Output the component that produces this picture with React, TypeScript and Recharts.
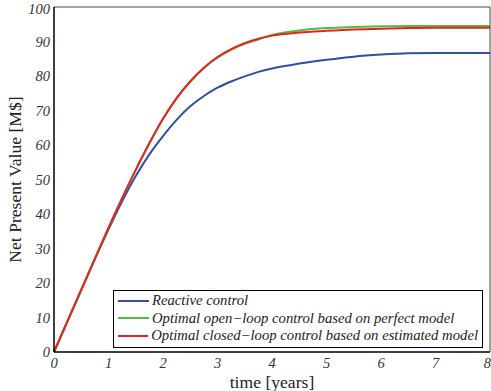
import React from 'react';
import { LineChart, Line, XAxis, YAxis, Legend } from 'recharts';

const years = [0, 0.25, 0.5, 0.75, 1, 1.25, 1.5, 1.75, 2, 2.25, 2.5, 2.75, 3, 3.25, 3.5, 3.75, 4, 4.5, 5, 5.5, 6, 6.5, 7, 7.5, 8];
const reactive = [0, 9, 18, 27, 35.5, 43.7, 51.0, 57.3, 62.6, 67.3, 71.2, 74.2, 76.6, 78.4, 79.9, 81.2, 82.2, 83.6, 84.7, 85.6, 86.2, 86.6, 86.7, 86.7, 86.7];
const openLoop = [0, 9, 18, 27, 36, 44.6, 52.8, 60.5, 67.6, 73.6, 78.4, 82.3, 85.3, 87.6, 89.4, 90.6, 91.9, 93.2, 93.9, 94.2, 94.4, 94.5, 94.5, 94.5, 94.5];
const closedLoop = [0, 9, 18, 27, 36, 44.6, 52.8, 60.5, 67.6, 73.6, 78.4, 82.4, 85.5, 87.8, 89.5, 90.8, 91.7, 92.6, 93.1, 93.5, 93.7, 93.9, 94.0, 94.0, 94.0];

const xTicks = [0, 1, 2, 3, 4, 5, 6, 7, 8];
const yTicks = [0, 10, 20, 30, 40, 50, 60, 70, 80, 90, 100];

const seriesNames = [
  'Reactive control',
  'Optimal open\u2212loop control based on perfect model',
  'Optimal closed\u2212loop control based on estimated model',
];
const colors = ['#2E4FA3', '#55B947', '#E52421'];

const data = years.map((t, i) => ({
  t,
  reactive: reactive[i],
  openLoop: openLoop[i],
  closedLoop: closedLoop[i],
}));

const font = 'Liberation Serif';
const tickStyle = { fontFamily: font, fontStyle: 'italic', fontSize: 14.5, fill: '#333' };

function LegendBox() {
  return (
    <div
      style={{
        border: '1.5px solid #000',
        background: '#fff',
        padding: '1px 4px 2px 4px',
        fontFamily: font,
        fontStyle: 'italic',
        fontSize: 14.7,
        color: '#222',
        lineHeight: '17.5px',
        boxSizing: 'border-box',
      }}
    >
      {seriesNames.map((name, i) => (
        <div key={name} style={{ display: 'flex', alignItems: 'center', whiteSpace: 'nowrap' }}>
          <span style={{ display: 'inline-block', width: 31, height: 2, background: colors[i], marginRight: 3 }} />
          {name}
        </div>
      ))}
    </div>
  );
}

export default function App() {
  return (
    <div style={{ position: 'absolute', left: 0, top: 0, background: '#fff', fontFamily: font }}>
      <LineChart
        width={491}
        height={391}
        data={data}
        margin={{ top: 7, right: 1, bottom: 0, left: 0 }}
        style={{ fontFamily: font }}
      >
        <XAxis
          xAxisId="b"
          dataKey="t"
          type="number"
          domain={[0, 8]}
          ticks={xTicks}
          height={39}
          tickLine={false}
          tickSize={0}
          tickMargin={6}
          axisLine={{ stroke: '#000', strokeWidth: 1.5 }}
          tick={tickStyle}
          label={{ value: 'time [years]', position: 'insideBottom', offset: 3, fontFamily: font, fontSize: 17.6, fill: '#222' }}
        />
        <XAxis xAxisId="bm" dataKey="t" type="number" domain={[0, 8]} ticks={xTicks} mirror tick={false} tickSize={5} axisLine={false} tickLine={{ stroke: '#333' }} />
        <XAxis xAxisId="tm" orientation="top" dataKey="t" type="number" domain={[0, 8]} ticks={xTicks} mirror tick={false} tickSize={5} axisLine={{ stroke: '#444' }} tickLine={{ stroke: '#444' }} />
        <YAxis
          yAxisId="l"
          type="number"
          domain={[0, 100]}
          ticks={yTicks}
          width={54}
          tickLine={false}
          tickSize={0}
          tickMargin={4}
          axisLine={{ stroke: '#000', strokeWidth: 1.5 }}
          tick={tickStyle}
          label={{ value: 'Net Present Value [M$]', angle: -90, position: 'insideLeft', offset: 15, fontFamily: font, fontSize: 17.6, fill: '#222', textAnchor: 'middle' }}
        />
        <YAxis yAxisId="lm" type="number" domain={[0, 100]} ticks={yTicks} mirror tick={false} tickSize={5} axisLine={false} tickLine={{ stroke: '#333' }} />
        <YAxis yAxisId="rm" orientation="right" type="number" domain={[0, 100]} ticks={yTicks} mirror tick={false} tickSize={5} axisLine={{ stroke: '#444' }} tickLine={{ stroke: '#444' }} />
        <Legend
          layout="vertical"
          align="center"
          verticalAlign="middle"
          content={<LegendBox />}
          wrapperStyle={{ left: 113, top: 290, width: 370 }}
        />
        <Line xAxisId="b" yAxisId="l" type="monotone" dataKey="reactive" stroke={colors[0]} strokeWidth={2} dot={false} isAnimationActive={false} />
        <Line xAxisId="b" yAxisId="l" type="monotone" dataKey="openLoop" stroke={colors[1]} strokeWidth={2} dot={false} isAnimationActive={false} />
        <Line xAxisId="b" yAxisId="l" type="monotone" dataKey="closedLoop" stroke={colors[2]} strokeWidth={2} dot={false} isAnimationActive={false} />
      </LineChart>
    </div>
  );
}
